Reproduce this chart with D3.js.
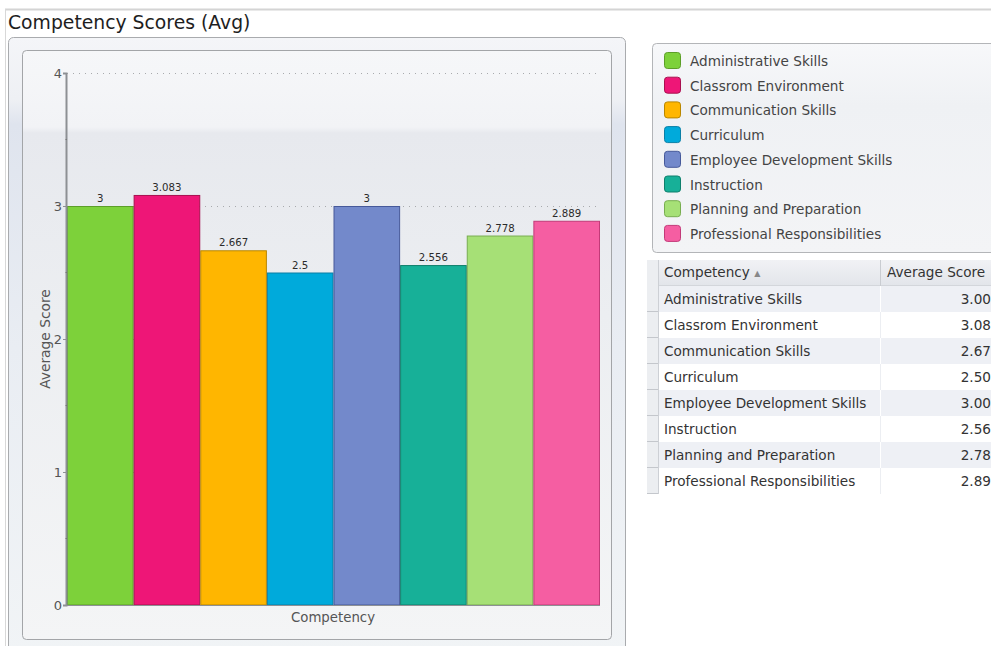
<!DOCTYPE html>
<html>
<head>
<meta charset="utf-8"/>
<title>Competency Scores (Avg)</title>
<script src="https://cdnjs.cloudflare.com/ajax/libs/d3/7.8.5/d3.min.js"></script>
<style>
  html, body { margin: 0; padding: 0; background: #fff; overflow: hidden; }
  svg { display: block; font-family: "DejaVu Sans", Verdana, sans-serif; }
</style>
</head>
<body>
<div id="chart"></div>
<script>
// chart data
var competencies = ['Administrative Skills', 'Classrom Environment', 'Communication Skills',
                    'Curriculum', 'Employee Development Skills', 'Instruction',
                    'Planning and Preparation', 'Professional Responsibilities'];
var avgScores = [3, 3.083, 2.667, 2.5, 3, 2.556, 2.778, 2.889];
var barColors = ['#7dd13a', '#ee1677', '#ffb600', '#00aadb', '#7389cb', '#17b098', '#a6e076', '#f55ea2'];
var barStrokes = ['#5c9e28', '#a8104f', '#b88600', '#0a7fa6', '#46599a', '#0f7f6c', '#78ad50', '#c23a78'];
var yTicks = [0, 1, 2, 3, 4];
var yMinorTicks = [0.5, 1.5, 2.5, 3.5];

var W = 991, H = 646;
var svg = d3.select('#chart').append('svg').attr('width', W).attr('height', H);
var defs = svg.append('defs');

function gradient(id, stops) {
  var g = defs.append('linearGradient').attr('id', id)
    .attr('x1', 0).attr('y1', 0).attr('x2', 0).attr('y2', 1);
  stops.forEach(function(s) {
    g.append('stop').attr('offset', s[0]).attr('stop-color', s[1]);
  });
}
gradient('outerBg', [[0, '#f4f5f8'], [0.1, '#eef0f4'], [0.14, '#dfe4ee'], [0.5, '#e9edf3'], [1, '#f1f4f6']]);
gradient('innerBg', [[0, '#f6f7f9'], [0.13, '#f2f3f6'], [0.14, '#e7e9ee'], [0.45, '#eceef1'], [1, '#f4f5f6']]);
gradient('legendBg', [[0, '#f7f8fa'], [0.3, '#eff1f4'], [1, '#f3f4f6']]);
gradient('headBg', [[0, '#f1f2f5'], [1, '#e2e5ea']]);

var txt = 13.6;

// page frame
svg.append('line').attr('x1', 5).attr('x2', W).attr('y1', 9.5).attr('y2', 9.5)
  .attr('stroke', '#d4d4d4').attr('stroke-width', 2);
svg.append('line').attr('x1', 5.5).attr('x2', 5.5).attr('y1', 9).attr('y2', H)
  .attr('stroke', '#d8d8d8').attr('stroke-width', 1);
svg.append('text').attr('x', 8).attr('y', 29)
  .attr('font-size', 18.8).attr('fill', '#1e1e1e')
  .text('Competency Scores (Avg)');

// chart panels
svg.append('rect').attr('x', 8.5).attr('y', 37.5).attr('width', 617).attr('height', 620)
  .attr('rx', 5).attr('fill', 'url(#outerBg)').attr('stroke', '#a9abae');
svg.append('rect').attr('x', 22.5).attr('y', 50.5).attr('width', 589).attr('height', 589)
  .attr('rx', 4).attr('fill', 'url(#innerBg)').attr('stroke', '#a3a5a8');

// scales
var x = d3.scaleBand().domain(competencies).range([67, 600]).padding(0);
var y = d3.scaleLinear().domain([0, 4]).range([605, 73]);

// gridlines
svg.append('g').selectAll('line').data(yTicks.filter(function(d) { return d > 0; }))
  .join('line')
  .attr('x1', 67).attr('x2', 600)
  .attr('y1', function(d) { return y(d) + 0.5; }).attr('y2', function(d) { return y(d) + 0.5; })
  .attr('stroke', '#a8aaad').attr('stroke-dasharray', '1,5');

// bars
svg.append('g').selectAll('rect').data(avgScores).join('rect')
  .attr('x', function(d, i) { return x(competencies[i]) + 0.5; })
  .attr('y', function(d) { return y(d) + 0.5; })
  .attr('width', x.bandwidth() - 1)
  .attr('height', function(d) { return y(0) - y(d) - 0.5; })
  .attr('fill', function(d, i) { return barColors[i]; })
  .attr('stroke', function(d, i) { return barStrokes[i]; });

// value labels
svg.append('g').selectAll('text').data(avgScores).join('text')
  .attr('x', function(d, i) { return x(competencies[i]) + x.bandwidth() / 2; })
  .attr('y', function(d) { return y(d) - 4; })
  .attr('text-anchor', 'middle').attr('font-size', 10.2).attr('fill', '#2a2a2a')
  .text(function(d) { return String(d); });

// y axis
var yAxis = d3.axisLeft(y).tickValues(yTicks).tickSize(3).tickPadding(1)
  .tickFormat(d3.format('d'));
var ya = svg.append('g').attr('transform', 'translate(66,0)').call(yAxis);
ya.select('.domain').attr('stroke', '#8d9094').attr('stroke-width', 2);
ya.selectAll('.tick line').attr('stroke', '#8d9094');
ya.selectAll('.tick text').attr('font-size', 13).attr('fill', '#555')
  .attr('font-family', '"DejaVu Sans", Verdana, sans-serif');
svg.append('g').selectAll('line').data(yMinorTicks).join('line')
  .attr('x1', 65.5).attr('x2', 67)
  .attr('y1', function(d) { return y(d); }).attr('y2', function(d) { return y(d); })
  .attr('stroke', '#777');

// x axis baseline
svg.append('line').attr('x1', 66).attr('x2', 600).attr('y1', y(0) + 0.5).attr('y2', y(0) + 0.5)
  .attr('stroke', '#8d9094');

svg.append('text').attr('x', 333).attr('y', 622).attr('text-anchor', 'middle')
  .attr('font-size', 13.3).attr('fill', '#555').text('Competency');
svg.append('text').attr('transform', 'translate(50,339) rotate(-90)')
  .attr('text-anchor', 'middle').attr('font-size', 13.8).attr('fill', '#555')
  .text('Average Score');

// legend
var lg = svg.append('g');
lg.append('rect').attr('x', 652.5).attr('y', 43.5).attr('width', 350).attr('height', 209)
  .attr('rx', 4).attr('fill', 'url(#legendBg)').attr('stroke', '#b3b5b8');
var items = lg.selectAll('g.item').data(competencies).join('g').attr('class', 'item')
  .attr('transform', function(d, i) { return 'translate(0,' + (61 + i * 24.7) + ')'; });
items.append('rect').attr('x', 664.5).attr('y', -8.5).attr('width', 16).attr('height', 16)
  .attr('rx', 3)
  .attr('fill', function(d, i) { return barColors[i]; })
  .attr('stroke', function(d, i) { return barStrokes[i]; });
items.append('text').attr('x', 690).attr('y', 5).attr('font-size', txt).attr('fill', '#444')
  .text(function(d) { return d; });

// data table
var fmt = d3.format('.2f');
var tb = svg.append('g');
var rowH = 26, headTop = 260, headH = 26;
tb.append('rect').attr('x', 647).attr('y', headTop).attr('width', W - 647).attr('height', headH)
  .attr('fill', 'url(#headBg)');
tb.append('line').attr('x1', 647).attr('x2', W).attr('y1', headTop + headH - 0.5).attr('y2', headTop + headH - 0.5)
  .attr('stroke', '#d3d6db');
tb.append('line').attr('x1', 880.5).attr('x2', 880.5).attr('y1', headTop).attr('y2', headTop + headH)
  .attr('stroke', '#c9ccd1');
var hd = tb.append('text').attr('x', 664).attr('y', headTop + 17).attr('font-size', txt).attr('fill', '#333')
  .text('Competency ');
hd.append('tspan').attr('font-size', 8).attr('fill', '#888').attr('dy', -1).text('\u25B2');
tb.append('text').attr('x', 887).attr('y', headTop + 17).attr('font-size', txt).attr('fill', '#333')
  .text('Average Score');

var rows = tb.selectAll('g.row').data(competencies).join('g').attr('class', 'row')
  .attr('transform', function(d, i) { return 'translate(0,' + (headTop + headH + i * rowH) + ')'; });
rows.append('rect').attr('x', 659).attr('y', 0).attr('width', W - 659).attr('height', rowH)
  .attr('fill', function(d, i) { return i % 2 === 0 ? '#eef0f5' : '#ffffff'; });
rows.append('line').attr('x1', 880.5).attr('x2', 880.5).attr('y1', 0).attr('y2', rowH)
  .attr('stroke', function(d, i) { return i % 2 === 0 ? '#ffffff' : '#eceef2'; });
rows.append('text').attr('x', 664).attr('y', 18).attr('font-size', txt).attr('fill', '#333')
  .text(function(d) { return d; });
rows.append('text').attr('x', 991).attr('y', 18).attr('text-anchor', 'end')
  .attr('font-size', txt).attr('fill', '#333')
  .text(function(d, i) { return fmt(avgScores[i]); });

// row selector column
tb.append('rect').attr('x', 647).attr('y', headTop).attr('width', 11).attr('height', headH + rowH * competencies.length)
  .attr('fill', '#eceef1');
tb.append('line').attr('x1', 658.5).attr('x2', 658.5).attr('y1', headTop).attr('y2', headTop + headH + rowH * competencies.length)
  .attr('stroke', '#cdd0d5');
tb.selectAll('line.sel').data(competencies).join('line').attr('class', 'sel')
  .attr('x1', 647).attr('x2', 658)
  .attr('y1', function(d, i) { return headTop + headH + (i + 1) * rowH - 0.5; })
  .attr('y2', function(d, i) { return headTop + headH + (i + 1) * rowH - 0.5; })
  .attr('stroke', '#c4c7cc');
</script>
</body>
</html>
